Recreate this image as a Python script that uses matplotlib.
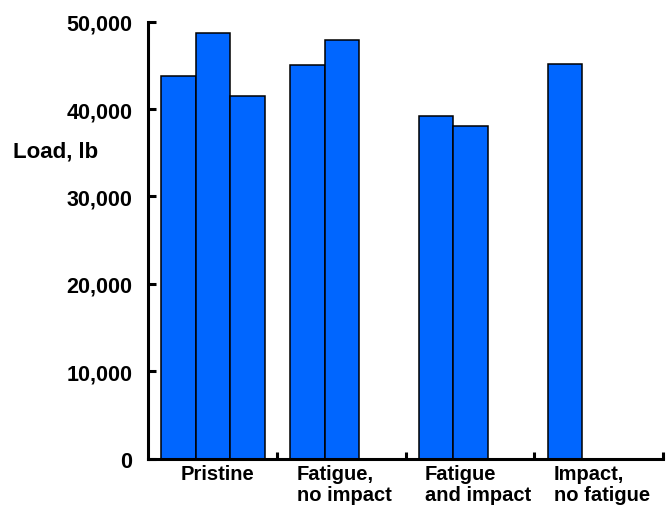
import matplotlib
matplotlib.use("Agg")
import matplotlib.pyplot as plt
from matplotlib.ticker import FuncFormatter

plt.rcParams['font.family'] = ['Liberation Sans', 'DejaVu Sans']
plt.rcParams['font.weight'] = 'bold'

groups = ["Pristine", "Fatigue,\nno impact", "Fatigue\nand impact", "Impact,\nno fatigue"]
loads = [
    [43800, 48650, 41450],
    [45000, 47850],
    [39150, 38100],
    [45150],
]
y_ticks = [0, 10000, 20000, 30000, 40000, 50000]

bar_w = 0.269
bar_off = 0.103
label_off = [0.258, 0.158, 0.151, 0.152]

fig = plt.figure(figsize=(6.69, 5.10), dpi=100)
ax = fig.add_axes([0.2208, 0.099, 0.7707, 0.8565])

for i, vals in enumerate(loads):
    for j, v in enumerate(vals):
        ax.bar(i + bar_off + j * bar_w, v, width=bar_w, align='edge',
               color='#0066ff', edgecolor='black', linewidth=1.1)
    ax.text(i + label_off[i], -0.013, groups[i], transform=ax.get_xaxis_transform(),
            ha='left', va='top', fontsize=14.5, fontweight='bold', linespacing=1.12)

ax.set_xlim(0, 4)
ax.set_ylim(0, 50000)
ax.set_yticks(y_ticks)
ax.yaxis.set_major_formatter(FuncFormatter(lambda v, p: f"{int(v):,}"))
ax.set_xticks([1, 2, 3, 4])
ax.set_xticklabels([])

for s in ['top', 'right']:
    ax.spines[s].set_visible(False)
for s in ['left', 'bottom']:
    ax.spines[s].set_linewidth(2.2)

ax.tick_params(axis='y', direction='in', length=6, width=2.2, pad=11, labelsize=15.5)
ax.tick_params(axis='x', direction='in', length=5, width=2.2)

ax.set_ylabel("Load, lb", rotation=0, fontsize=16, fontweight='bold', ha='center', va='center')
ax.yaxis.set_label_coords(-0.178, 0.704)

fig.savefig("out.png", dpi=100)
